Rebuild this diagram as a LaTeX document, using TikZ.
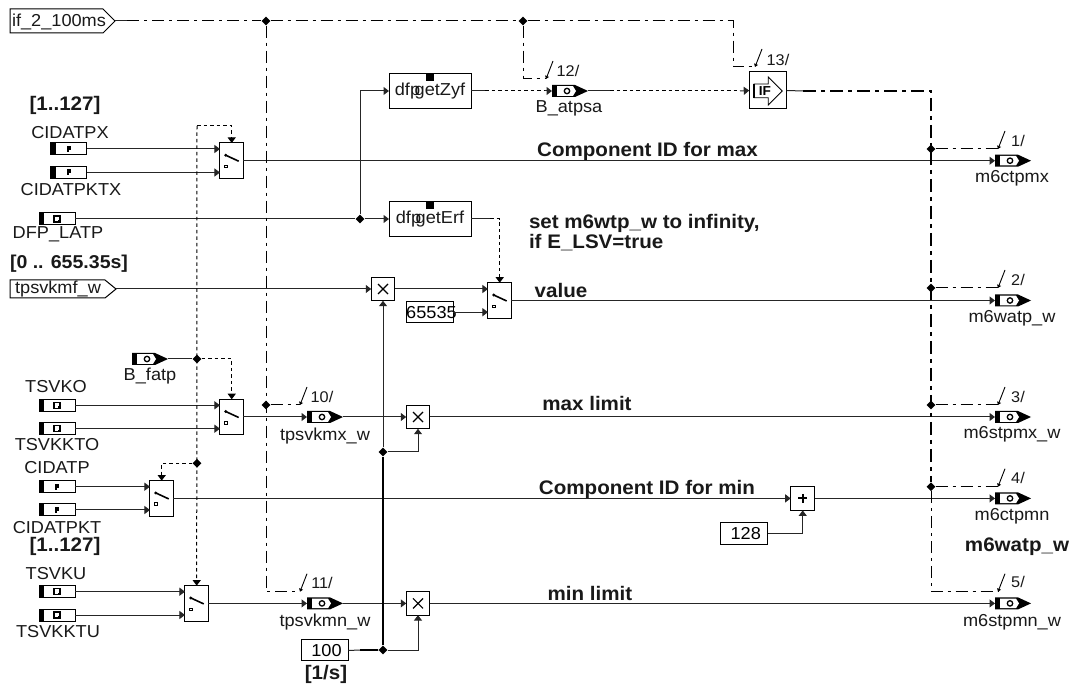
\documentclass[tikz,border=0pt]{standalone}
\usepackage{fontspec}
\setmainfont{Liberation Sans}[FakeStretch=1.05]
\usetikzlibrary{arrows.meta,shapes.geometric,calc}
\tikzset{
 x=1pt,y=-1pt,
 conn/.style={line width=1pt,draw=black!85,-{Triangle[length=5.5pt,width=8pt]}},
 plain/.style={line width=1pt,draw=black!85},
 thickc/.style={line width=2.2pt,draw=black},
 dotc/.style={line width=1pt,dash pattern=on 3.5pt off 3pt,draw=black},
 dashdot/.style={line width=1pt,dash pattern=on 12pt off 5pt on 3pt off 5pt,draw=black},
 dashdotthick/.style={line width=2pt,dash pattern=on 13pt off 5pt on 4pt off 5pt,draw=black},
 junc/.style={diamond,fill=black,inner sep=0pt,minimum width=9pt,minimum height=9pt,aspect=1},
 lab/.style={inner sep=0pt,outer sep=0pt,font=\fontsize{17.3pt}{18pt}\selectfont,text=black!90},
 blab/.style={lab,font=\fontsize{19.6pt}{20pt}\selectfont\bfseries,align=left},
 tlab/.style={lab,font=\fontsize{15.5pt}{16pt}\selectfont},
 boxn/.style={draw=black,line width=1pt,fill=white,inner sep=0pt,outer sep=0pt},
 invis/.style={inner sep=0pt,outer sep=0pt},
 tick/.style={line width=.9pt,draw=black},
}
% parameter element: name, centre x, y, icon (0 = P type, 1 = D type)
\newcommand\ParEl[4]{%
 \node[boxn,minimum width=36pt,minimum height=12pt] (#1) at (#2,#3) {};
 \fill[black] ($(#1.south west)$) rectangle ($(#1.north west)+(5,0)$);
 \ifnum#4=0
  \fill[black] ($(#1.center)+(-2,-3)$) rectangle ($(#1.center)+(2,1)$);
  \fill[black] ($(#1.center)+(-2,1)$) rectangle ($(#1.center)+(0,3)$);
 \else
  \draw[line width=1.5pt] ($(#1.center)+(-3,-3)$) rectangle ($(#1.center)+(3,3)$);
  \fill[black] ($(#1.center)+(1,1)$) rectangle ($(#1.center)+(3,3)$);
 \fi}
% source/sink element with black tip: name, left x, y
\newcommand\TipEl[3]{%
 \node[invis,minimum width=36pt,minimum height=12pt] (#1) at (#2+18,#3) {};
 \fill[black] (#2,#3-6) -- (#2+23,#3-6) -- (#2+36,#3) -- (#2+23,#3+6) -- (#2,#3+6) -- cycle;
 \fill[white] (#2+5,#3-4.8) -- (#2+21,#3-4.8) -- (#2+24,#3) -- (#2+21,#3+4.8) -- (#2+5,#3+4.8) -- cycle;
 \draw[line width=1.3pt] (#2+15,#3) circle (2.7pt);}
% switch: name, centre x, centre y
\newcommand\SwEl[3]{%
 \node[boxn,minimum width=23.5pt,minimum height=35.5pt] (#1) at (#2,#3) {};
 \draw[line width=1.6pt] (#2-6,#3-5.5) -- (#2+7,#3+.5);
 \fill (#2-6,#3-5.5) circle (1.6pt);
 \draw[line width=.8pt] (#2-7,#3+4.5) rectangle (#2-4.5,#3+7);}
% times box
\newcommand\MulEl[3]{%
 \node[boxn,minimum width=23.5pt,minimum height=23.5pt] (#1) at (#2,#3) {};
 \draw[line width=1.2pt] (#2-5,#3-5) -- (#2+5,#3+5) (#2-5,#3+5) -- (#2+5,#3-5);}
% dfp box
\newcommand\DfpEl[4]{%
 \node[boxn,minimum width=82pt,minimum height=35pt,font=\fontsize{17.3pt}{18pt}\selectfont,text=black!90] (#1) at (#2,#3) {\raisebox{-4pt}{dfp\kern-5.5pt #4}};
 \fill[black] (#2-4,#3-18) rectangle (#2+4,#3-10);}
\newcommand\Lab[4][lab]{\node[#1] (#2) at #3 {#4};}
\begin{document}
\begin{tikzpicture}
\useasboundingbox (0,0) rectangle (1069,684);
\fill[white] (0,0) rectangle (1069,684);

% --- junctions and corners
\node[junc] (j1) at (266,21) {};
\node[junc] (j2) at (523,21) {};
\node[junc] (j3) at (360,219) {};
\node[junc] (j4) at (197,359) {};
\node[junc] (j5) at (197,463.3) {};
\node[junc] (j6) at (266,405) {};
\node[junc] (j7) at (383,650) {};
\node[junc] (j8) at (383,452) {};
\node[junc] (o1) at (931,149) {};
\node[junc] (o2) at (931,288) {};
\node[junc] (o3) at (931,405) {};
\node[junc] (o4) at (931,486.7) {};
\coordinate (cTop) at (197,126);
\coordinate (t10) at (300,405);
\coordinate (t11) at (300,591.7);
\coordinate (t12) at (546,79);
\coordinate (t13) at (755,67);
\coordinate (tE1) at (998,149);
\coordinate (tE2) at (998,288);
\coordinate (tE3) at (998,405);
\coordinate (tE4) at (998,486.7);
\coordinate (tE5) at (998,591.7);
\coordinate (c5) at (931,591.7);
\coordinate (cTR) at (733,21);
\coordinate (cIF) at (931,91);

% --- inputs
\node[invis,minimum width=105pt,minimum height=24pt] (ifin) at (62.5,21) {};
\draw[boxn] (10,9) -- (103,9) -- (115,21) -- (103,33) -- (10,33) -- cycle;
\Lab{ifinT}{(59,21.5)}{if\_2\_100ms}
\node[invis,minimum width=106pt,minimum height=19pt] (tpin) at (63,289) {};
\draw[boxn] (10,280) -- (105,280) -- (116,289) -- (105,298) -- (10,298) -- cycle;
\Lab{tpinT}{(58,289.5)}{tpsvkmf\_w}
\ParEl{pA}{68.5}{149}{0}
\ParEl{pB}{68.5}{172.5}{0}
\ParEl{pC}{57}{219}{1}
\ParEl{pD}{57}{405.3}{1}
\ParEl{pE}{57}{428.7}{1}
\ParEl{pF}{57}{486.7}{0}
\ParEl{pG}{57}{510}{0}
\ParEl{pH}{57}{591.7}{1}
\ParEl{pI}{57}{615}{1}
\TipEl{bf}{132}{359}

% --- blocks
\SwEl{s1}{231.7}{160.7}
\SwEl{s2}{499.7}{300.5}
\SwEl{s3}{231.7}{417}
\SwEl{s4}{161.7}{498.4}
\SwEl{s5}{196.7}{603.4}
\MulEl{m1}{383}{289}
\MulEl{m2}{418}{417}
\MulEl{m3}{418}{603.4}
\node[boxn,minimum width=24pt,minimum height=24pt] (pl) at (802.7,498.4) {};
\draw[line width=1.8pt] (798.2,498.4) -- (807.2,498.4) (802.7,494) -- (802.7,503);
\DfpEl{d1}{430}{91}{getZyf}
\DfpEl{d2}{430}{219}{getErf}
\node[boxn,minimum width=37.5pt,minimum height=37pt] (iff) at (768,90.5) {};
\draw[line width=.8pt] (754,84) -- (768.3,84) -- (768.3,77) -- (782.3,91) -- (768.3,105) -- (768.3,97.7) -- (754,97.7) -- cycle;
\draw[line width=1.5pt] (754,84) -- (754,97.7);
\node[invis,font=\fontsize{13pt}{13pt}\selectfont\bfseries] (iffT) at (765,91) {IF};
\node[boxn,minimum width=46.5pt,minimum height=21pt,font=\fontsize{17.3pt}{18pt}\selectfont] (k65) at (430,312.2) {\makebox[0pt]{\kern3pt 65535}};
\node[boxn,minimum width=46.5pt,minimum height=21pt,font=\fontsize{17.3pt}{18pt}\selectfont] (k100) at (325,650.3) {\kern3pt 100};
\node[boxn,minimum width=47pt,minimum height=21.5pt,font=\fontsize{17.3pt}{18pt}\selectfont] (k128) at (744.2,533.5) {\kern3pt 128};

% --- outputs
\TipEl{eA}{552}{91}
\TipEl{eB}{307}{417}
\TipEl{eC}{307}{603.4}
\TipEl{e1}{995}{160.7}
\TipEl{e2}{995}{300.5}
\TipEl{e3}{995}{417}
\TipEl{e4}{995}{498.4}
\TipEl{e5}{995}{603.4}

% --- data connectors
\draw[conn] (pA.east) -- (pA -| s1.west);
\draw[conn] (pB.east) -- (pB -| s1.west);
\draw[plain] (pC.east) -- (j3);
\draw[conn] (j3) -- (d2.west);
\draw[conn] (j3) |- (d1.west);
\draw[conn] (tpin.east) -- (m1.west);
\draw[conn] (m1.east) -- (m1 -| s2.west);
\draw[conn] (k65.east) -- (k65 -| s2.west);
\draw[conn] (pD.east) -- (pD -| s3.west);
\draw[conn] (pE.east) -- (pE -| s3.west);
\draw[conn] (pF.east) -- (pF -| s4.west);
\draw[conn] (pG.east) -- (pG -| s4.west);
\draw[conn] (pH.east) -- (pH -| s5.west);
\draw[conn] (pI.east) -- (pI -| s5.west);
\draw[plain] (bf.east) -- (j4);
\draw[conn] (s1.east) -- (e1.west);
\draw[conn] (s2.east) -- (e2.west);
\draw[conn] (s3.east) -- (eB.west);
\draw[conn] (eB.east) -- (m2.west);
\draw[conn] (m2.east) -- (e3.west);
\draw[conn] (s4.east) -- (pl.west);
\draw[conn] (pl.east) -- (e4.west);
\draw[conn] (s5.east) -- (eC.west);
\draw[conn] (eC.east) -- (m3.west);
\draw[conn] (m3.east) -- (e5.west);
\draw[conn] (k128.east) -| (pl.south);
\draw[plain] (k100.east) -- (j7);
\draw[thickc] (360,650) -- (j7);
\draw[conn] (j7) -| (m3.south);
\draw[conn] (j8) -| (m2.south);
\draw[thickc] (j7) -- (j8);
\draw[conn] (j8) -- (m1.south);

% --- control connectors (boolean)
\draw[dotc,-{Triangle[length=5.5pt,width=8pt]}] (cTop) -- (s5.north);
\draw[dotc,-{Triangle[length=5.5pt,width=8pt]}] (cTop) -| (s1.north);
\draw[dotc,-{Triangle[length=5.5pt,width=8pt]}] (j4) -| (s3.north);
\draw[dotc,-{Triangle[length=5.5pt,width=8pt]}] (j5) -| (s4.north);
\draw[plain] (d2.east) -- (490,219);
\draw[dotc,-{Triangle[length=5.5pt,width=8pt]}] (490,219) -| (s2.north);
\draw[plain] (d1.east) -- (485,91);
\draw[dotc] (485,91) -- (545,91);
\draw[conn] (545,91) -- (eA.west);
\draw[plain] (eA.east) -- (610,91);
\draw[dotc] (610,91) -- (740,91);
\draw[conn] (740,91) -- (iff.west);

% --- trigger connectors
\draw[plain] (ifin.east) -- (127,21);
\draw[dashdot] (127,21) -- (j1);
\draw[dashdot] (j1) -- (j2);
\draw[dashdot] (j2) -- (cTR) -- (733,67) -- (t13);
\draw[dashdot] (j1) -- (266,591.7) -- (t11);
\draw[dashdot] (j6) -- (t10);
\draw[dashdot] (j2) -- (523,79) -- (t12);
\draw[plain] (iff.east) -- (803,91);
\draw[dashdotthick] (803,91) -- (cIF) -- (o4);
\draw[dashdot] (o4) -- (c5) -- (tE5);
\draw[dashdot] (o1) -- (tE1);
\draw[dashdot] (o2) -- (tE2);
\draw[dashdot] (o3) -- (tE3);
\draw[dashdot] (o4) -- (tE4);

% --- tick marks
\foreach \c in {t10,t11,t12,t13,tE1,tE2,tE3,tE4,tE5}{
 \draw[tick,{Triangle[length=3pt,width=4pt]}-] (\c) -- ++(7,-18);
}

% --- tick numbers
\Lab[tlab]{n12}{(568,70.5)}{12/}
\Lab[tlab]{n13}{(778,59.5)}{13/}
\Lab[tlab]{n10}{(322,396.5)}{10/}
\Lab[tlab]{n11}{(322,583)}{11/}
\Lab[tlab]{n1}{(1018,141)}{1/}
\Lab[tlab]{n2}{(1018,280)}{2/}
\Lab[tlab]{n3}{(1018,397)}{3/}
\Lab[tlab]{n4}{(1018,478)}{4/}
\Lab[tlab]{n5}{(1018,582)}{5/}

% --- name labels
\Lab{lA}{(70,133)}{CIDATPX}
\Lab{lB}{(71,190)}{CIDATPKTX}
\Lab{lC}{(58,234)}{DFP\_LATP}
\Lab{lD}{(56,387)}{TSVKO}
\Lab{lE}{(57,445)}{TSVKKTO}
\Lab{lF}{(57,468)}{CIDATP}
\Lab{lG}{(57,528)}{CIDATPKT}
\Lab{lH}{(56,574)}{TSVKU}
\Lab{lI}{(58,632)}{TSVKKTU}
\Lab{lbf}{(150,376)}{B\_fatp}
\Lab{lsa}{(569,108)}{B\_atpsa}
\Lab{lmx}{(325,436)}{tpsvkmx\_w}
\Lab{lmn}{(325,622)}{tpsvkmn\_w}
\Lab{l1}{(1012,178)}{m6ctpmx}
\Lab{l2}{(1012,318)}{m6watp\_w}
\Lab{l3}{(1012,434)}{m6stpmx\_w}
\Lab{l4}{(1012,516)}{m6ctpmn}
\Lab{l5}{(1012,622)}{m6stpmn\_w}

% --- bold labels
\Lab[blab]{b1}{(65,105)}{[1..127]}
\Lab[blab]{b2}{(65,546)}{[1..127]}
\node[blab,font=\fontsize{18.6pt}{20pt}\selectfont\bfseries] (b3) at (69,264) {[0 .. 655.35s]};
\Lab[blab]{b4}{(326,674)}{[1/s]}
\Lab[blab]{b5}{(647.5,151)}{Component ID for max}
\Lab[blab]{b6}{(647,489)}{Component ID for min}
\node[blab,anchor=north west] (b7) at (529,214) {set m6wtp\_w to infinity,\\if E\_LSV=true};
\Lab[blab]{b8}{(561,290)}{value}
\Lab[blab]{b9}{(587,403)}{max limit}
\Lab[blab]{b10}{(590,593)}{min limit}
\Lab[blab]{b11}{(1017,547)}{m6watp\_w}
\end{tikzpicture}
\end{document}
